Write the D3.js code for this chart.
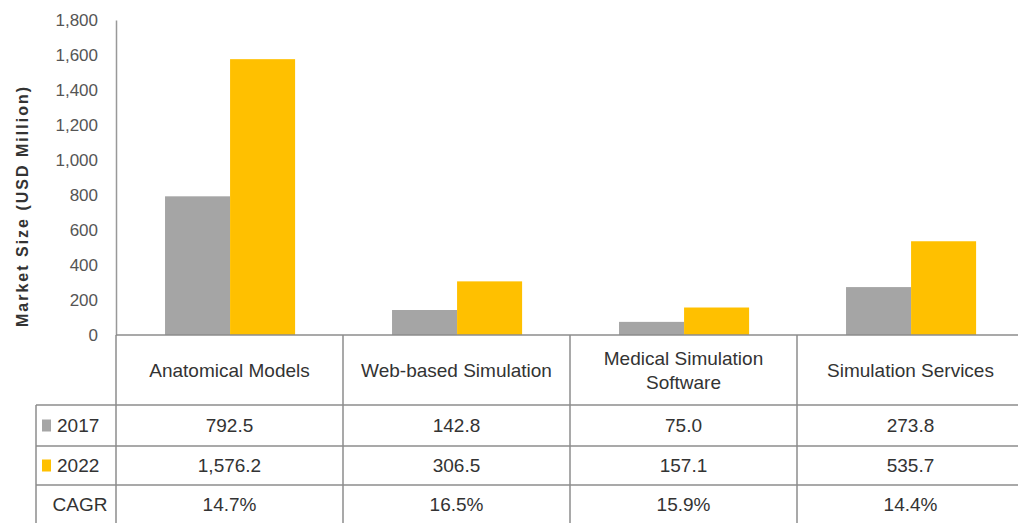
<!DOCTYPE html>
<html>
<head>
<meta charset="utf-8">
<script src="https://cdn.jsdelivr.net/npm/d3@7"></script>
<style>
	body { margin: 0; background: #fff; }
	svg { display: block; }
	.tbl { font-family: "Liberation Sans Narrow", "Arial Narrow", "Liberation Sans", sans-serif; fill: #333; }
</style>
</head>
<body>
<div id="chart"></div>
<script>
var categories = ["Anatomical Models", "Web-based Simulation", "Medical Simulation Software", "Simulation Services"];
var categoryLines = [["Anatomical Models"], ["Web-based Simulation"], ["Medical Simulation", "Software"], ["Simulation Services"]];
var years = ["2017", "2022"];
var values2017 = [792.5, 142.8, 75.0, 273.8];
var values2022 = [1576.2, 306.5, 157.1, 535.7];
var cagr = ["14.7%", "16.5%", "15.9%", "14.4%"];
var yTicks = [0, 200, 400, 600, 800, 1000, 1200, 1400, 1600, 1800];

var width = 1018, height = 523;
var marginLeft = 116, marginTop = 20, axisY = 335;
var labelLeft = 36;
var rowLines = [405, 446, 485, 523];

var color = d3.scaleOrdinal().domain(years).range(["#a5a5a5", "#ffc000"]);

var svg = d3.select("#chart").append("svg").attr("width", width).attr("height", height);

// scales
var x = d3.scaleBand().domain(categories).range([marginLeft, marginLeft + 227 * 4]).padding(0);
var x1 = d3.scaleBand().domain(years)
	.range([x.bandwidth() * 0.216, x.bandwidth() * 0.789]).padding(0);
var y = d3.scaleLinear().domain([0, 1800]).range([axisY, marginTop]);

// y axis
var yAxis = svg.append("g")
	.attr("transform", `translate(${marginLeft}, 0)`)
	.call(d3.axisLeft(y).tickValues(yTicks).tickSize(0).tickPadding(18).tickFormat(d3.format(",")));
yAxis.select(".domain").attr("stroke", "#999").attr("stroke-width", 1.5);
yAxis.selectAll("text")
	.attr("font-family", "Liberation Sans, Arial, sans-serif")
	.attr("font-size", 17)
	.attr("fill", "#555");

svg.append("text")
	.attr("transform", `translate(28, 206) rotate(-90)`)
	.attr("text-anchor", "middle")
	.attr("font-family", "Liberation Sans, Arial, sans-serif")
	.attr("font-weight", "bold")
	.attr("font-size", 16)
	.attr("letter-spacing", 2)
	.attr("fill", "#333")
	.text("Market Size (USD Million)");

// bars
var series = [values2017, values2022];
var groups = svg.selectAll("g.cat")
	.data(categories)
	.enter()
	.append("g")
	.attr("class", "cat")
	.attr("transform", (d) => `translate(${x(d)}, 0)`);
groups.selectAll("rect")
	.data((d, i) => years.map((yr, j) => ({ year: yr, value: series[j][i] })))
	.enter()
	.append("rect")
	.attr("x", (d) => x1(d.year))
	.attr("width", x1.bandwidth())
	.attr("y", (d) => y(d.value))
	.attr("height", (d) => y(0) - y(d.value))
	.attr("fill", (d) => color(d.year));

// table grid
var grid = svg.append("g").attr("stroke", "#8c8c8c").attr("stroke-width", 1.5);
grid.append("line").attr("x1", marginLeft).attr("x2", width).attr("y1", axisY).attr("y2", axisY);
rowLines.slice(0, 3).forEach(function (ry) {
	grid.append("line").attr("x1", labelLeft).attr("x2", width).attr("y1", ry).attr("y2", ry);
});
grid.append("line").attr("x1", labelLeft).attr("x2", labelLeft).attr("y1", rowLines[0]).attr("y2", height);
categories.forEach(function (c) {
	grid.append("line").attr("x1", x(c)).attr("x2", x(c)).attr("y1", axisY).attr("y2", height);
});

// header row
var tbl = svg.append("g").attr("class", "tbl");
categories.forEach(function (c, i) {
	var lines = categoryLines[i];
	var cy = (axisY + rowLines[0]) / 2;
	lines.forEach(function (ln, k) {
		tbl.append("text")
			.attr("x", x(c) + x.bandwidth() / 2)
			.attr("y", cy + (k - (lines.length - 1) / 2) * 24)
			.attr("dy", "0.35em")
			.attr("text-anchor", "middle")
			.attr("font-size", 19)
			.text(ln);
	});
});

// data rows
var rows = [
	{ label: "2017", swatch: color("2017"), cells: values2017.map(d3.format(",.1f")) },
	{ label: "2022", swatch: color("2022"), cells: values2022.map(d3.format(",.1f")) },
	{ label: "CAGR", swatch: null, cells: cagr }
];
rows.forEach(function (r, ri) {
	var cy = (rowLines[ri] + rowLines[ri + 1]) / 2;
	if (r.swatch) {
		svg.append("rect").attr("x", 42).attr("y", cy - 6).attr("width", 9).attr("height", 12).attr("fill", r.swatch);
		tbl.append("text").attr("x", 57).attr("y", cy).attr("dy", "0.35em").attr("font-size", 19).text(r.label);
	} else {
		tbl.append("text").attr("x", 80).attr("y", cy).attr("dy", "0.35em")
			.attr("text-anchor", "middle").attr("font-size", 19).text(r.label);
	}
	categories.forEach(function (c, i) {
		tbl.append("text")
			.attr("x", x(c) + x.bandwidth() / 2)
			.attr("y", cy)
			.attr("dy", "0.35em")
			.attr("text-anchor", "middle")
			.attr("font-size", 19)
			.text(r.cells[i]);
	});
});
</script>
</body>
</html>
